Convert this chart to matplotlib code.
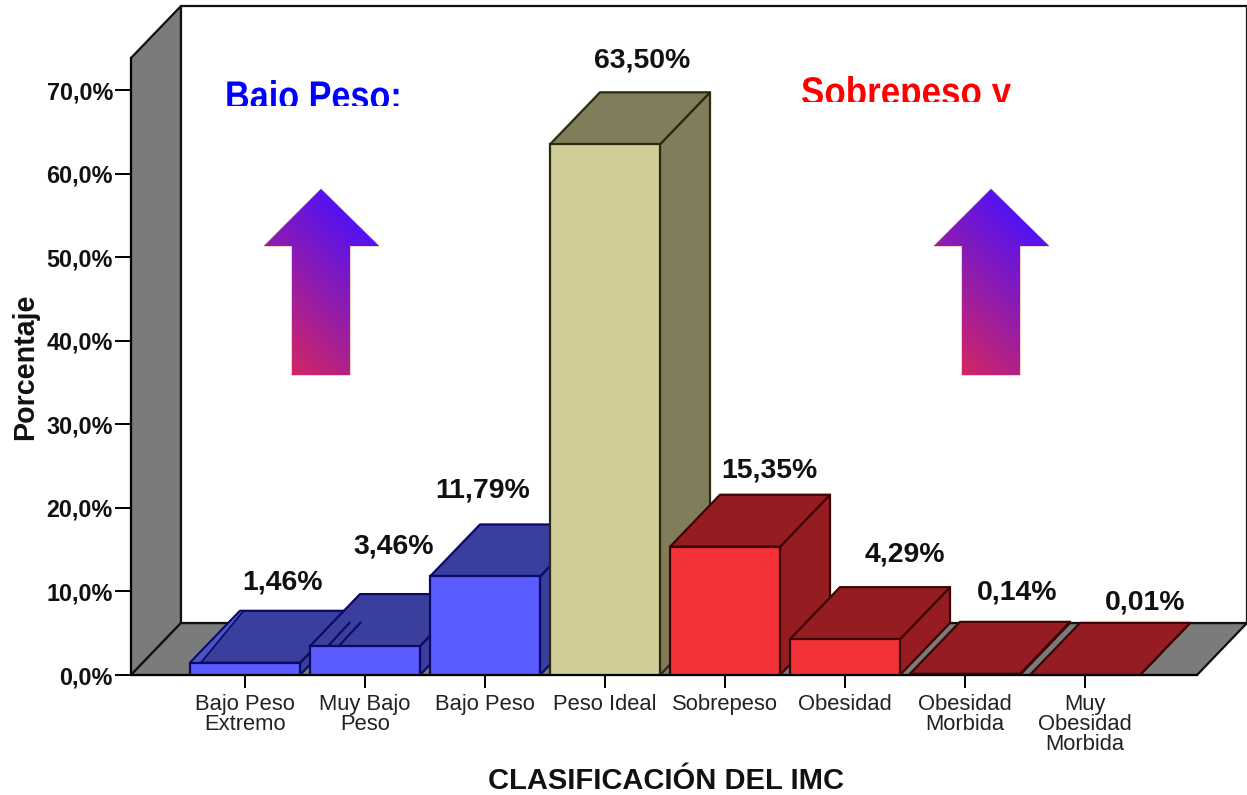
import numpy as np
import matplotlib
matplotlib.use("Agg")
import matplotlib.pyplot as plt
import matplotlib.patheffects as pe
from matplotlib.patches import Polygon, Rectangle
from matplotlib.transforms import Affine2D

categories = ["Bajo Peso\nExtremo", "Muy Bajo\nPeso", "Bajo Peso", "Peso Ideal",
              "Sobrepeso", "Obesidad", "Obesidad\nMorbida", "Muy\nObesidad\nMorbida"]
values = [1.46, 3.46, 11.79, 63.50, 15.35, 4.29, 0.14, 0.01]
groups = ["bajo", "bajo", "bajo", "ideal", "alto", "alto", "alto", "alto"]
y_ticks = [0, 10, 20, 30, 40, 50, 60, 70]

# front, side/top, edge
colors = {
    "bajo": ("#5a5cff", "#3a3f9e", "#0a0a66"),
    "ideal": ("#d1cd98", "#817d5b", "#2a2a10"),
    "alto": ("#f23139", "#951d21", "#3d0606"),
}
WALL = "#7b7b7b"

W, H = 1247, 795
PX_X, PX_Y = 120.0, 83.57 / 10  # pixels per category / per percent
DX, DY = 50 / PX_X, 52 / PX_Y   # 3d depth in data units
BAR_W = 110 / PX_X

plt.rcParams["font.family"] = ["Liberation Sans", "DejaVu Sans"]

fig = plt.figure(figsize=(W / 100, H / 100), dpi=100, facecolor="white")
ax = fig.add_axes([131 / W, 1 - 675 / H, 1066 / W, 617 / H])
ax.patch.set_visible(False)
x0, x1 = (131 - 245) / PX_X, (1197 - 245) / PX_X
y1 = 617 / PX_Y
ax.set_xlim(x0, x1)
ax.set_ylim(0, y1)


def add_poly(pts, face, edge="#111111", lw=1.6, z=1):
    ax.add_patch(Polygon(pts, closed=True, facecolor=face, edgecolor=edge, linewidth=lw,
                         joinstyle="round", zorder=z, clip_on=False))


# walls and floor
add_poly([(x0, 0), (x0 + DX, DY), (x0 + DX, y1 + DY), (x0, y1)], WALL)
add_poly([(x0, 0), (x0 + DX, DY), (x1 + DX, DY), (x1, 0)], WALL)
add_poly([(x0 + DX, DY), (x0 + DX, y1 + DY), (x1 + DX, y1 + DY), (x1 + DX, DY)], "white")

for i, (val, grp) in enumerate(zip(values, groups)):
    front, shade, edge = colors[grp]
    left, right = i - BAR_W / 2, i + BAR_W / 2
    z = 3 + i
    add_poly([(right, 0), (right + DX, DY), (right + DX, val + DY), (right, val)], shade, edge, z=z)
    add_poly([(left, val), (left + DX, val + DY), (right + DX, val + DY), (right, val)], shade, edge, z=z)
    ax.bar(i, val, width=BAR_W, color=front, edgecolor=edge, linewidth=1.6, zorder=z + 0.5)

# odd streaks on the tops of the two small bars
add_poly([(-BAR_W / 2, values[0]), (-BAR_W / 2 + DX, values[0] + DY),
          (-BAR_W / 2 + DX + 0.03, values[0] + DY), (-BAR_W / 2 + 0.09, values[0])],
         "#4a55c4", "#0a0a66", lw=1.2, z=3.2)
for off in (0.15, 0.24):
    ax.plot([1 - BAR_W / 2 + off, 1 - BAR_W / 2 + off + 0.18],
            [values[1], values[1] + 2.8], color="#0a0a66", lw=1.5, zorder=4.2)

ax.spines["top"].set_visible(False)
ax.spines["right"].set_visible(False)
ax.spines["left"].set_linewidth(1.5)
ax.spines["bottom"].set_linewidth(1.5)
ax.spines["bottom"].set_zorder(20)
ax.set_xticks(range(len(categories)))
ax.set_xticklabels(categories, fontsize=15.8, color="#222222", linespacing=0.95)
ax.set_yticks(y_ticks)
ax.set_yticklabels([f"{t},0%" for t in y_ticks], fontsize=16.8, fontweight="bold", color="#111111")
ax.tick_params(axis="y", length=11.5, width=1.4, pad=1.5)
ax.tick_params(axis="x", length=9.5, width=1.4, pad=4)
ax.set_ylabel("Porcentaje", fontsize=20.6, fontweight="bold", color="#111111")
ax.yaxis.set_label_coords((39 - 131) / 1066, 0.5)
ax.set_xlabel("CLASIFICACIÓN DEL IMC", fontsize=21, fontweight="bold", color="#111111")
ax.xaxis.set_label_coords((666 - 131) / 1066, -(781 - 675) / 617)
ax.xaxis.label.set_verticalalignment("center")

# overlay in pixel coordinates for the pasted annotations
ann = fig.add_axes([0, 0, 1, 1], zorder=10)
ann.axis("off")
ann.patch.set_visible(False)

label_pos = [(283, 582), (394, 546), (483, 490), (642, 61),
             (769, 470), (905, 555), (1017, 592), (1145, 602)]
for val, (lx, ly) in zip(values, label_pos):
    ann.text(lx, ly, f"{val:.2f}%".replace(".", ","), ha="center", va="center",
             fontsize=20.4, fontweight="bold", color="#111111")


class Squeeze(pe.AbstractPathEffect):
    """Narrows the text horizontally, the pasted captions are set very tight."""

    def __init__(self, sx, xc):
        super().__init__()
        self.squeeze = Affine2D().translate(-xc, 0).scale(sx, 1).translate(xc, 0)

    def draw_path(self, renderer, gc, tpath, affine, rgbFace=None):
        renderer.draw_path(gc, tpath, affine + self.squeeze, rgbFace)


def clipped_caption(text, x, y, clip_y, color, sx):
    t = ann.text(x, y, text, ha="left", va="baseline", fontsize=28.8, fontweight="bold", color=color)
    t.set_path_effects([Squeeze(sx, x)])
    t.set_clip_path(Rectangle((0, 0), W, clip_y, transform=ann.transData))
    t.set_clip_on(True)


ann.set_xlim(0, W)
ann.set_ylim(H, 0)
clipped_caption("Bajo Peso:", 225, 109, 106, "#0000ff", 0.855)
clipped_caption("Sobrepeso y", 801, 105, 102, "#ff0000", 0.875)

# gradient arrows
low = np.array([0xdc, 0x28, 0x58]) / 255
high = np.array([0x48, 0x10, 0xff]) / 255
gx, gy = np.meshgrid(np.linspace(0, 1, 120), np.linspace(1, 0, 190))
mix = np.clip(0.75 * gy + 0.45 * gx - 0.05, 0, 1)[..., None]
grad = low * (1 - mix) + high * mix

for cx in (321, 991):
    pts = [(cx, 189), (cx + 58, 246), (cx + 29, 246), (cx + 29, 375),
           (cx - 29, 375), (cx - 29, 246), (cx - 57, 246)]
    ann.add_patch(Polygon(pts, closed=True, facecolor="none", edgecolor="#e8906a",
                          linewidth=0.8, alpha=0.7))
    im = ann.imshow(grad, extent=(cx - 58, cx + 58, 375, 189), aspect="auto", zorder=2)
    im.set_clip_path(Polygon(pts, closed=True, transform=ann.transData))
ann.set_xlim(0, W)
ann.set_ylim(H, 0)

fig.savefig("out.png", dpi=100)
